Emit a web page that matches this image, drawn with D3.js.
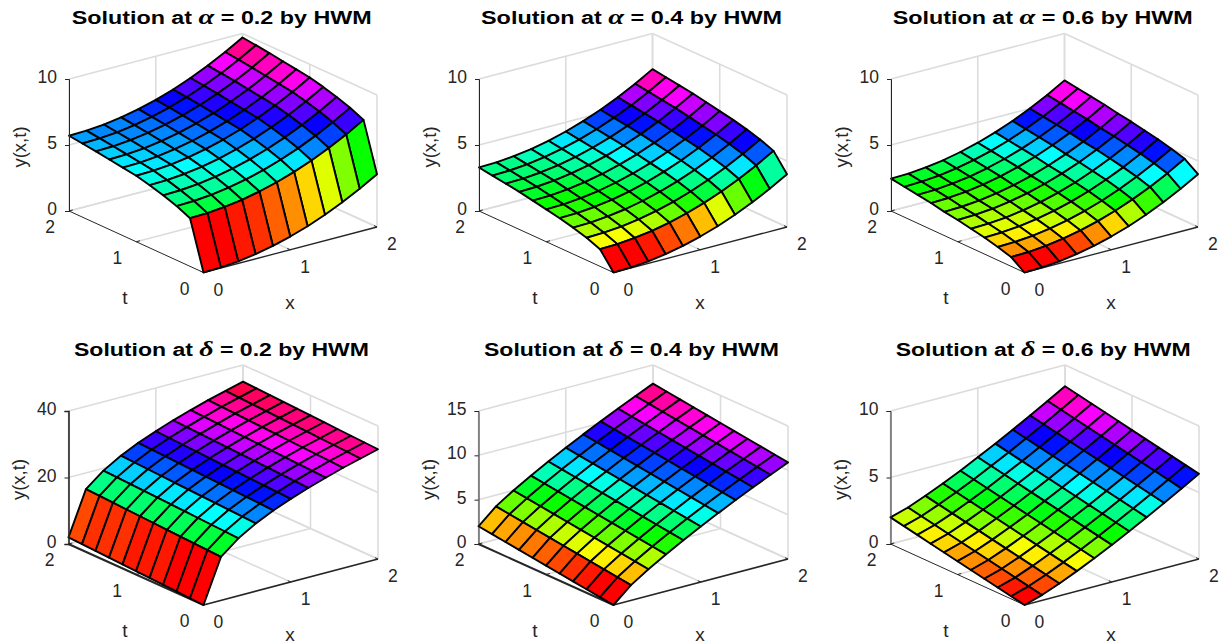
<!DOCTYPE html>
<html>
<head>
<meta charset="utf-8">
<script src="https://cdnjs.cloudflare.com/ajax/libs/d3/7.8.5/d3.min.js"></script>
<style>
html,body{margin:0;padding:0;background:#fff}
svg{display:block}
text{font-family:"Liberation Sans",Arial,sans-serif;fill:#262626}
</style>
</head>
<body>
<svg id="c" width="1231" height="644"></svg>
<script>
// Grid of the surfaces
const xValues = [0, 0.2, 0.4, 0.6, 0.8, 1, 1.2, 1.4, 1.6, 1.8, 2];
const tValues = [0, 0.2, 0.4, 0.6, 0.8, 1, 1.2, 1.4, 1.6, 1.8, 2];
const xTicks = [0, 1, 2];
const tTicks = [0, 1, 2];

// y(x,t): one row per t, one column per x
const yAlpha02 = [
[0,.04,.16,.36,.64,1,1.44,1.96,2.56,3.24,4],
[3.65,3.69,3.81,4.01,4.29,4.65,5.09,5.61,6.21,6.89,7.65],
[4.1,4.14,4.26,4.46,4.74,5.1,5.54,6.06,6.66,7.34,8.1],
[4.45,4.49,4.61,4.81,5.09,5.45,5.89,6.41,7.01,7.69,8.45],
[4.75,4.79,4.91,5.11,5.39,5.75,6.19,6.71,7.31,7.99,8.75],
[5,5.04,5.16,5.36,5.64,6,6.44,6.96,7.56,8.24,9],
[5.15,5.19,5.31,5.51,5.79,6.15,6.59,7.11,7.71,8.39,9.15],
[5.3,5.34,5.46,5.66,5.94,6.3,6.74,7.26,7.86,8.54,9.3],
[5.45,5.49,5.61,5.81,6.09,6.45,6.89,7.41,8.01,8.69,9.45],
[5.58,5.62,5.74,5.94,6.22,6.58,7.02,7.54,8.14,8.82,9.58],
[5.7,5.74,5.86,6.06,6.34,6.7,7.14,7.66,8.26,8.94,9.7]];
const yAlpha04 = [
[0,.04,.16,.36,.64,1,1.44,1.96,2.56,3.24,4],
[1.3,1.34,1.46,1.66,1.94,2.3,2.74,3.26,3.86,4.54,5.3],
[1.7,1.74,1.86,2.06,2.34,2.7,3.14,3.66,4.26,4.94,5.7],
[2,2.04,2.16,2.36,2.64,3,3.44,3.96,4.56,5.24,6],
[2.25,2.29,2.41,2.61,2.89,3.25,3.69,4.21,4.81,5.49,6.25],
[2.45,2.49,2.61,2.81,3.09,3.45,3.89,4.41,5.01,5.69,6.45],
[2.65,2.69,2.81,3.01,3.29,3.65,4.09,4.61,5.21,5.89,6.65],
[2.85,2.89,3.01,3.21,3.49,3.85,4.29,4.81,5.41,6.09,6.85],
[3,3.04,3.16,3.36,3.64,4,4.44,4.96,5.56,6.24,7],
[3.15,3.19,3.31,3.51,3.79,4.15,4.59,5.11,5.71,6.39,7.15],
[3.3,3.34,3.46,3.66,3.94,4.3,4.74,5.26,5.86,6.54,7.3]];
const yAlpha06 = [
[0,.04,.16,.36,.64,1,1.44,1.96,2.56,3.24,4],
[.7,.74,.86,1.06,1.34,1.7,2.14,2.66,3.26,3.94,4.7],
[1,1.04,1.16,1.36,1.64,2,2.44,2.96,3.56,4.24,5],
[1.25,1.29,1.41,1.61,1.89,2.25,2.69,3.21,3.81,4.49,5.25],
[1.45,1.49,1.61,1.81,2.09,2.45,2.89,3.41,4.01,4.69,5.45],
[1.65,1.69,1.81,2.01,2.29,2.65,3.09,3.61,4.21,4.89,5.65],
[1.8,1.84,1.96,2.16,2.44,2.8,3.24,3.76,4.36,5.04,5.8],
[2,2.04,2.16,2.36,2.64,3,3.44,3.96,4.56,5.24,6],
[2.15,2.19,2.31,2.51,2.79,3.15,3.59,4.11,4.71,5.39,6.15],
[2.3,2.34,2.46,2.66,2.94,3.3,3.74,4.26,4.86,5.54,6.3],
[2.45,2.49,2.61,2.81,3.09,3.45,3.89,4.41,5.01,5.69,6.45]];
const yDelta02 = [
[0,13.1,17.3,20.4,22.9,25,26.9,28.6,30.2,31.6,33],
[.2,13.3,17.5,20.6,23.1,25.2,27.1,28.8,30.4,31.8,33.2],
[.4,13.5,17.7,20.8,23.3,25.4,27.3,29,30.6,32,33.4],
[.6,13.7,17.9,21,23.5,25.6,27.5,29.2,30.8,32.2,33.6],
[.8,13.9,18.1,21.2,23.7,25.8,27.7,29.4,31,32.4,33.8],
[1,14.1,18.3,21.4,23.9,26,27.9,29.6,31.2,32.6,34],
[1.2,14.3,18.5,21.6,24.1,26.2,28.1,29.8,31.4,32.8,34.2],
[1.4,14.5,18.7,21.8,24.3,26.4,28.3,30,31.6,33,34.4],
[1.6,14.7,18.9,22,24.5,26.6,28.5,30.2,31.8,33.2,34.6],
[1.8,14.9,19.1,22.2,24.7,26.8,28.7,30.4,32,33.4,34.8],
[2,15.1,19.3,22.4,24.9,27,28.9,30.6,32.2,33.6,35]];
const yDelta04 = [
[0,1.72,3,4.15,5.23,6.26,7.25,8.2,9.12,10.02,10.9],
[.2,1.92,3.2,4.35,5.43,6.46,7.45,8.4,9.32,10.22,11.1],
[.4,2.12,3.4,4.55,5.63,6.66,7.65,8.6,9.52,10.42,11.3],
[.6,2.32,3.6,4.75,5.83,6.86,7.85,8.8,9.72,10.62,11.5],
[.8,2.52,3.8,4.95,6.03,7.06,8.05,9,9.92,10.82,11.7],
[1,2.72,4,5.15,6.23,7.26,8.25,9.2,10.12,11.02,11.9],
[1.2,2.92,4.2,5.35,6.43,7.46,8.45,9.4,10.32,11.22,12.1],
[1.4,3.12,4.4,5.55,6.63,7.66,8.65,9.6,10.52,11.42,12.3],
[1.6,3.32,4.6,5.75,6.83,7.86,8.85,9.8,10.72,11.62,12.5],
[1.8,3.52,4.8,5.95,7.03,8.06,9.05,10,10.92,11.82,12.7],
[2,3.72,5,6.15,7.23,8.26,9.25,10.2,11.12,12.02,12.9]];
const yDelta06 = [
[0,.4,.93,1.51,2.13,2.79,3.47,4.17,4.9,5.64,6.4],
[.2,.6,1.13,1.71,2.33,2.99,3.67,4.37,5.1,5.84,6.6],
[.4,.8,1.33,1.91,2.53,3.19,3.87,4.57,5.3,6.04,6.8],
[.6,1,1.53,2.11,2.73,3.39,4.07,4.77,5.5,6.24,7],
[.8,1.2,1.73,2.31,2.93,3.59,4.27,4.97,5.7,6.44,7.2],
[1,1.4,1.93,2.51,3.13,3.79,4.47,5.17,5.9,6.64,7.4],
[1.2,1.6,2.13,2.71,3.33,3.99,4.67,5.37,6.1,6.84,7.6],
[1.4,1.8,2.33,2.91,3.53,4.19,4.87,5.57,6.3,7.04,7.8],
[1.6,2,2.53,3.11,3.73,4.39,5.07,5.77,6.5,7.24,8],
[1.8,2.2,2.73,3.31,3.93,4.59,5.27,5.97,6.7,7.44,8.2],
[2,2.4,2.93,3.51,4.13,4.79,5.47,6.17,6.9,7.64,8.4]];

// Panel definitions
const panels = [
 {sym:"α", val:"0.2", z:yAlpha02, zTicks:[0,5,10],   zMax:10, ox:203.5, oy:272.5, tx:69,    ty:211, xx:377,    xy:227, zy:79,  titleX:71.7,  titleW:300, titleY:24,  axisW:[1,1,1.3]},
 {sym:"α", val:"0.4", z:yAlpha04, zTicks:[0,5,10],   zMax:10, ox:613.5, oy:272.5, tx:479,   ty:211, xx:787,    xy:227, zy:79,  titleX:481,   titleW:301, titleY:24,  axisW:[1,1,1.3]},
 {sym:"α", val:"0.6", z:yAlpha06, zTicks:[0,5,10],   zMax:10, ox:1024.5,oy:272.5, tx:891,   ty:211, xx:1198,   xy:227, zy:79,  titleX:892.7, titleW:300, titleY:24,  axisW:[1,1,1.3]},
 {sym:"δ", val:"0.2", z:yDelta02, zTicks:[0,20,40],  zMax:40, ox:203.5, oy:605,   tx:68.5,  ty:544, xx:378,    xy:559, zy:411, titleX:74,    titleW:295, titleY:356, axisW:[1.6,2,1.8]},
 {sym:"δ", val:"0.4", z:yDelta04, zTicks:[0,5,10,15],zMax:15, ox:613.5, oy:605,   tx:478.5, ty:544, xx:788,    xy:559, zy:411, titleX:484,   titleW:295, titleY:356, axisW:[1,2,1.8]},
 {sym:"δ", val:"0.6", z:yDelta06, zTicks:[0,5,10],   zMax:10, ox:1024.5,oy:605,   tx:890.5, ty:544, xx:1199,   xy:559, zy:411, titleX:895.7, titleW:295, titleY:356, axisW:[1,1,1.3]}
];

const svg = d3.select("#c");
const closed = d3.line().curve(d3.curveLinearClosed);
const GRID = "#dcdcdc", AXIS = "#262626";

panels.forEach(p => {
  const g = svg.append("g");
  // oblique scales: each data axis contributes a pixel shift
  const xDX = d3.scaleLinear([0,2],[0,p.xx-p.ox]), xDY = d3.scaleLinear([0,2],[0,p.xy-p.oy]);
  const tDX = d3.scaleLinear([0,2],[0,p.tx-p.ox]), tDY = d3.scaleLinear([0,2],[0,p.ty-p.oy]);
  const zS  = d3.scaleLinear([0,p.zMax],[p.ty,p.zy]);
  const zDY = v => zS(v)-zS(0);
  const proj = (x,t,z) => [p.ox+xDX(x)+tDX(t), p.oy+xDY(x)+tDY(t)+zDY(z)];

  const seg = (a,b,color,w) => g.append("line")
    .attr("x1",a[0]).attr("y1",a[1]).attr("x2",b[0]).attr("y2",b[1])
    .attr("stroke",color).attr("stroke-width",w);

  // back walls and floor grid
  const W = 1.6;
  p.zTicks.forEach(v => {
    seg(proj(0,2,v),proj(2,2,v),GRID,W);
    seg(proj(2,2,v),proj(2,0,v),GRID,W);
  });
  xTicks.forEach(v => {
    seg(proj(v,2,0),proj(v,2,p.zMax),GRID,W);
    if(v>0) seg(proj(v,0,0),proj(v,2,0),GRID,W);
  });
  tTicks.forEach(v => {
    seg(proj(2,v,0),proj(2,v,p.zMax),GRID,W);
    if(v>0) seg(proj(0,v,0),proj(2,v,0),GRID,W);
  });

  // axis lines
  seg(proj(0,0,0),proj(0,2,0),AXIS,p.axisW[1]);
  seg(proj(0,0,0),proj(2,0,0),AXIS,p.axisW[2]);
  xTicks.forEach(v => { const a=proj(v,0,0); seg(a,[a[0]+(p.tx-p.ox)*0.022,a[1]+(p.ty-p.oy)*0.022],AXIS,1); });
  tTicks.forEach(v => { const a=proj(0,v,0); seg(a,[a[0]+(p.xx-p.ox)*0.022,a[1]+(p.xy-p.oy)*0.022],AXIS,1); });

  // surface, painted back to front
  const all = p.z.flat();
  const hue = d3.scaleLinear([d3.min(all),d3.max(all)],[0,1]);
  const cells = [];
  for(let j=tValues.length-2;j>=0;j--) for(let i=xValues.length-2;i>=0;i--) cells.push({i,j});
  g.append("g").selectAll("path").data(cells).join("path")
    .attr("d",({i,j}) => closed([
      proj(xValues[i],tValues[j],p.z[j][i]),
      proj(xValues[i+1],tValues[j],p.z[j][i+1]),
      proj(xValues[i+1],tValues[j+1],p.z[j+1][i+1]),
      proj(xValues[i],tValues[j+1],p.z[j+1][i])]))
    .attr("fill",({i,j}) => {
      const lvl = Math.min(63,Math.floor(hue(p.z[j][i])*64));
      return d3.hsl(lvl/64*360,1,.5).formatHex();
    })
    .attr("stroke","#000").attr("stroke-width",1.9).attr("stroke-linejoin","round");

  // z axis with d3.axisLeft
  const zAxis = g.append("g").attr("transform",`translate(${p.tx},0)`)
    .call(d3.axisLeft(zS).tickValues(p.zTicks).tickSize(4).tickPadding(8).tickFormat(d3.format("d")));
  zAxis.selectAll("path").attr("stroke",AXIS).attr("stroke-width",p.axisW[0]);
  zAxis.selectAll("line").attr("stroke",AXIS);
  zAxis.selectAll("text").attr("font-size",17.5).attr("fill","#262626").attr("dy","0.2em")
    .style("font-family",'"Liberation Sans",Arial,sans-serif');

  const label = (x,y,s,size=17.5) => g.append("text").attr("x",x).attr("y",y)
    .attr("text-anchor","middle").attr("dominant-baseline","central").attr("font-size",size).text(s);

  xTicks.forEach(v => { const a=proj(v,0,0); label(a[0]+14.8,a[1]+17,v); });
  tTicks.forEach(v => { const a=proj(0,v,0); label(a[0]-18.8,a[1]+16.2,v); });
  label(p.ox+86.5,p.oy+29.5,"x",19);
  label(p.ox-78.5,p.oy+25,"t",19);
  g.append("text").attr("transform",`translate(${p.tx-50},${(p.ty+p.zy)/2+2}) rotate(-90)`)
    .attr("text-anchor","middle").attr("dominant-baseline","central")
    .attr("font-size",18.5).text("y(x,t)");

  // title
  const ti = g.append("text").attr("x",p.titleX).attr("y",p.titleY)
    .attr("font-size",18).attr("font-weight","bold").attr("fill","#000")
    .attr("textLength",p.titleW).attr("lengthAdjust","spacingAndGlyphs").style("fill","#000");
  ti.append("tspan").text("Solution at ");
  ti.append("tspan").style("font-family",'"Liberation Serif",serif').attr("font-style","italic").attr("font-size",22).text(p.sym);
  ti.append("tspan").text(" = "+p.val+" by HWM");
});
</script>
</body>
</html>
